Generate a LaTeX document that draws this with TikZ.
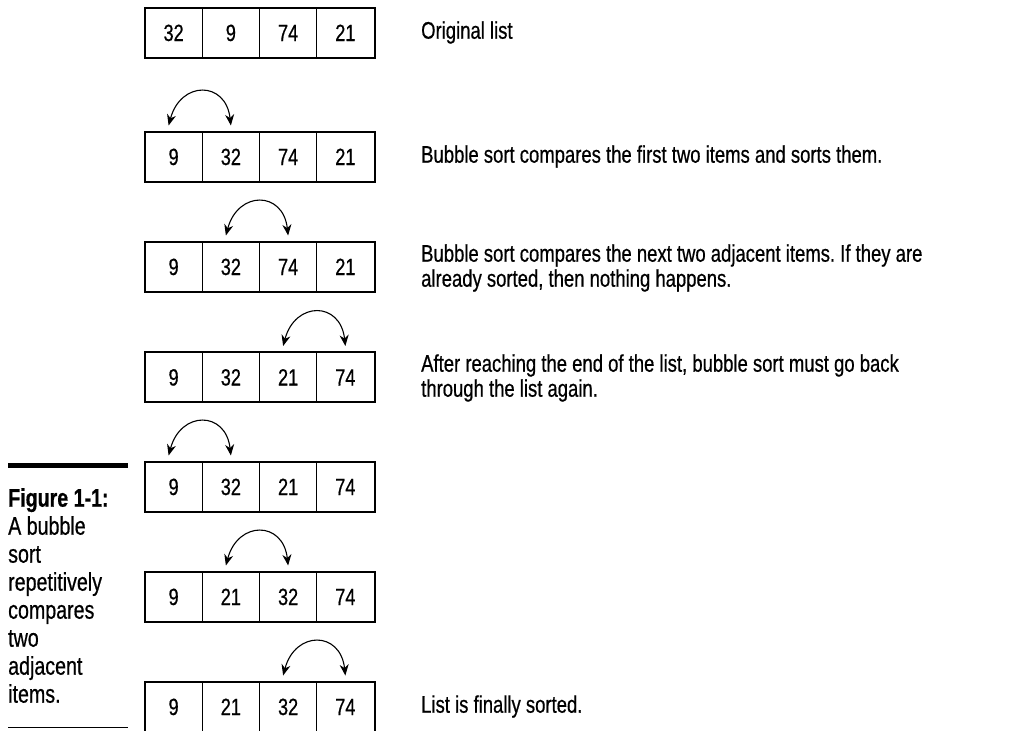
\documentclass[tikz,border=0pt]{standalone}
\usepackage{fontspec}
\setmainfont{Liberation Sans}[FakeStretch=0.77,FakeBold=0.6]
\usetikzlibrary{arrows.meta,calc}
\frenchspacing
\begin{document}
\begin{tikzpicture}[x=1pt,y=-1pt,
  cell/.style={draw,line width=1pt,minimum width=57.25pt,minimum height=49pt,inner sep=0pt,text height=17pt,text depth=0pt,font=\fontsize{23.5pt}{26pt}\selectfont},
  frame/.style={draw,line width=2pt},
  swaparrow/.style={{Stealth[length=11pt,width=9pt]}-{Stealth[length=11pt,width=9pt]},line width=1.1pt},
  note/.style={anchor=west,align=left,inner sep=0pt,font=\fontsize{24pt}{25pt}\selectfont},
  caption/.style={anchor=north west,align=left,inner sep=0pt,font=\fontsize{25.5pt}{28pt}\selectfont}]
\useasboundingbox (0,0) rectangle (1015,731);

% rows of cells
\foreach \i/\t/\a/\b/\c/\d in {1/8/32/9/74/21, 2/132/9/32/74/21, 3/242/9/32/74/21, 4/352.5/9/32/21/74, 5/462/9/32/21/74, 6/572/9/21/32/74, 7/682/9/21/32/74} {
  \node[cell] (r\i c1) at (173.625,{\t+24.5}) {\a};
  \node[cell] (r\i c2) at (230.875,{\t+24.5}) {\b};
  \node[cell] (r\i c3) at (288.125,{\t+24.5}) {\c};
  \node[cell] (r\i c4) at (345.375,{\t+24.5}) {\d};
  \draw[frame] (r\i c1.north west) rectangle (r\i c4.south east);
}

% swap arrows
\foreach \i/\p/\q in {2/1/2, 3/2/3, 4/3/4, 5/1/2, 6/2/3, 7/3/4} {
  \path ([xshift=-5pt,yshift=6pt]r\i c\p.north) coordinate (s\i)
        ([yshift=6pt]r\i c\q.north) coordinate (e\i);
  \draw[swaparrow] (s\i) .. controls ($(s\i)+(12,-45)$) and ($(e\i)+(-5,-45)$) .. (e\i);
}

% notes
\node[note] (t1) at (421,32.5) {Original list};
\node[note] (t2) at (421,156.5) {Bubble sort compares the first two items and sorts them.};
\node[note] (t3) at (421,268) {Bubble sort compares the next two adjacent items. If they are\\already sorted, then nothing happens.};
\node[note] (t4) at (421,378) {After reaching the end of the list, bubble sort must go back\\through the list again.};
\node[note] (t7) at (421,706.5) {List is finally sorted.};

% caption
\draw[line width=5pt] (8,465) -- (128,465);
\node[caption] (cap) at (8,488) {\textbf{Figure 1-1:}\\A bubble\\sort\\repetitively\\compares\\two\\adjacent\\items.};
\draw[line width=1pt] (8,727) -- (128,727);
\end{tikzpicture}
\end{document}
